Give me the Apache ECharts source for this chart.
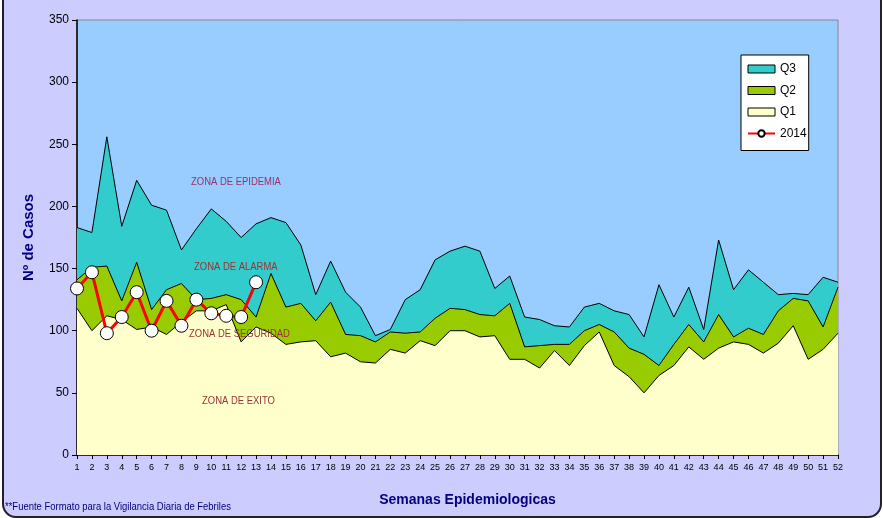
<!DOCTYPE html>
<html lang="es">
<head>
    <meta charset="utf-8"/>
    <title>Canal endémico - Febriles</title>
    <script src="https://cdn.jsdelivr.net/npm/echarts@6/dist/echarts.min.js"></script>
    <style>
        html, body { margin: 0; padding: 0; background: #ffffff; }
        #frame {
            position: absolute; left: 2px; top: -14px; width: 876px; height: 528px;
            border: 2px solid #222; border-radius: 14px; background: #CCCCFF;
        }
        #main { position: absolute; left: 0; top: 0; width: 883px; height: 518px; }
    </style>
</head>
<body>
<div id="frame"></div>
<div id="main"></div>
<script>
    // semanas epidemiologicas 1..52
    var semanas = [];
    for (var i = 1; i <= 52; i++) semanas.push(String(i));

    var q3 = [183, 179, 256, 184, 221, 201, 197, 165, 182, 198, 188, 175, 186, 191, 187, 169,
        129, 156, 131, 119, 96, 101, 125, 133, 157, 164, 168, 164, 134, 144, 111, 109,
        104, 103, 119, 122, 116, 113, 95, 137, 111, 135, 101, 173, 133, 149, 139, 129,
        130, 129, 143, 139];
    var q2 = [141, 151, 152, 124, 155, 117, 133, 138, 125, 126, 129, 125, 111, 146, 119, 122,
        108, 123, 97, 96, 91, 99, 98, 99, 110, 118, 117, 113, 112, 122, 87, 88,
        89, 89, 100, 105, 99, 86, 81, 72, 89, 105, 91, 113, 95, 102, 97, 116,
        126, 124, 103, 135];
    var q1 = [118, 100, 112, 109, 101, 103, 97, 107, 116, 116, 121, 91, 103, 98, 89, 91,
        92, 79, 82, 75, 74, 85, 82, 92, 88, 100, 100, 95, 96, 77, 77, 70,
        84, 72, 88, 99, 72, 63, 50, 64, 72, 87, 77, 86, 91, 89, 82, 90,
        104, 77, 85, 98];
    var a2014 = [134, 147, 98, 111, 131, 100, 124, 104, 125, 114, 112, 111, 139];

    var chart = echarts.init(document.getElementById('main'), null, {renderer: 'canvas'});
    var font = 'Liberation Sans, Arial, sans-serif';

    function zona(name, data, color) {
        return {
            name: name,
            type: 'line',
            data: data,
            symbol: 'none',
            silent: true,
            lineStyle: {color: '#000', width: 1},
            itemStyle: {color: color, borderColor: '#000', borderWidth: 1},
            areaStyle: {color: color, opacity: 1, origin: 'start'}
        };
    }

    // rotulos algo condensados como en el original
    function rotulo(txt, x, y, color) {
        return {
            type: 'text', x: x, y: y, z: 100, scaleX: 0.86,
            style: {text: txt, fill: color, font: '11px ' + font}
        };
    }

    var option = {
        animation: false,
        textStyle: {fontFamily: font},
        grid: {
            left: 77, right: 45, top: 20, bottom: 63,
            show: true, backgroundColor: '#99CCFF', borderColor: '#888', borderWidth: 1
        },
        legend: {
            data: [
                {name: 'Q3', icon: 'rect', itemStyle: {borderColor: '#000', borderWidth: 1}},
                {name: 'Q2', icon: 'rect', itemStyle: {borderColor: '#000', borderWidth: 1}},
                {name: 'Q1', icon: 'rect', itemStyle: {borderColor: '#000', borderWidth: 1}},
                {name: '2014'}
            ],
            orient: 'vertical',
            left: 741, top: 55,
            padding: [8, 2, 11, 6],
            itemGap: 9.5,
            itemWidth: 27, itemHeight: 8,
            backgroundColor: '#fff',
            borderColor: '#000', borderWidth: 1,
            textStyle: {color: '#000', fontSize: 12, fontFamily: font}
        },
        xAxis: {
            type: 'category',
            data: semanas,
            boundaryGap: false,
            name: 'Semanas Epidemiologicas',
            nameLocation: 'middle',
            nameGap: 38,
            nameTextStyle: {color: '#000080', fontWeight: 'bold', fontSize: 14, padding: [0, 0, 0, 20]},
            axisLine: {lineStyle: {color: '#000', width: 1.5}},
            axisTick: {alignWithLabel: true, length: 4, lineStyle: {color: '#000'}},
            axisLabel: {interval: 0, color: '#000', fontSize: 9, margin: 8}
        },
        yAxis: {
            type: 'value',
            min: 0, max: 350, interval: 50,
            name: 'Nº de Casos',
            nameLocation: 'middle',
            nameGap: 41,
            nameTextStyle: {color: '#000080', fontWeight: 'bold', fontSize: 15},
            splitLine: {show: false},
            axisLine: {show: true, lineStyle: {color: '#000', width: 1.5}},
            axisTick: {show: true, length: 5, lineStyle: {color: '#000'}},
            axisLabel: {color: '#000', fontSize: 12, margin: 8}
        },
        graphic: [
            rotulo('ZONA DE EPIDEMIA', 191, 176, '#993366'),
            rotulo('ZONA DE ALARMA', 194, 261, '#993333'),
            rotulo('ZONA DE SEGURIDAD', 189, 328, '#993333'),
            rotulo('ZONA DE EXITO', 202, 395, '#993333'),
            rotulo('**Fuente Formato para la Vigilancia Diaria de Febriles', 5, 501, '#000080')
        ],
        series: [
            zona('Q3', q3, '#33CCCC'),
            zona('Q2', q2, '#99CC00'),
            zona('Q1', q1, '#FFFFCC'),
            {
                name: '2014',
                type: 'line',
                data: a2014,
                symbol: 'circle',
                symbolSize: 13,
                lineStyle: {color: '#FF0000', width: 3},
                itemStyle: {color: '#fff', borderColor: '#000', borderWidth: 1},
                z: 5
            }
        ]
    };
    chart.setOption(option);
</script>
</body>
</html>
